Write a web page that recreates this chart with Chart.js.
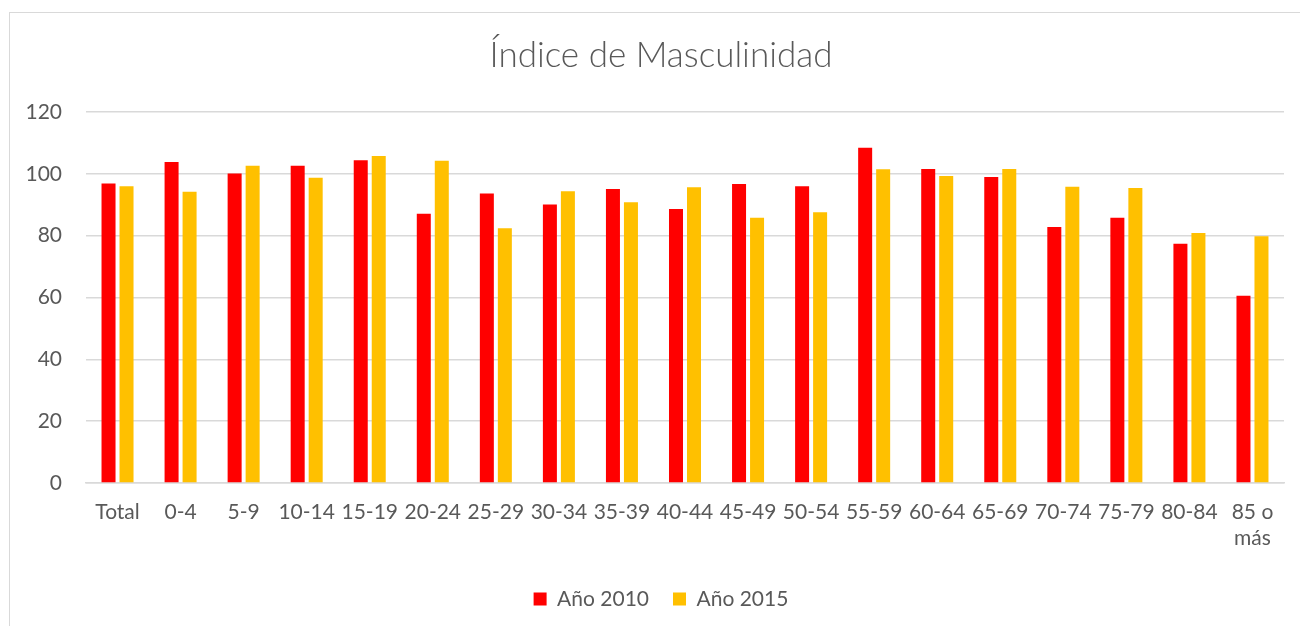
<!DOCTYPE html>
<html>
<head>
<meta charset="utf-8">
<script src="https://cdn.jsdelivr.net/npm/chart.js@4.4.1/dist/chart.umd.min.js"></script>
<style>
  html, body { margin: 0; padding: 0; background: #ffffff; }
  #wrap { position: relative; width: 1300px; height: 626px; overflow: hidden; }
  #frame { position: absolute; left: 9px; top: 12px; width: 1300px; height: 640px; border: 1px solid #d9d9d9; box-sizing: border-box; }
  #c { position: absolute; left: 0; top: 0; }
</style>
</head>
<body>
<div id="wrap">
  <div id="frame"></div>
  <canvas id="c" width="1300" height="626"></canvas>
</div>
<script>
const categories = ['Total', '0-4', '5-9', '10-14', '15-19', '20-24', '25-29', '30-34', '35-39', '40-44', '45-49', '50-54', '55-59', '60-64', '65-69', '70-74', '75-79', '80-84', ['85 o', 'más']];
const anio2010 = [96.9, 103.8, 100.1, 102.6, 104.4, 87.1, 93.6, 90.1, 95.1, 88.6, 96.7, 96.0, 108.4, 101.6, 99.0, 82.8, 85.8, 77.4, 60.6];
const anio2015 = [96.0, 94.2, 102.6, 98.7, 105.8, 104.2, 82.4, 94.4, 90.8, 95.7, 85.8, 87.6, 101.5, 99.3, 101.6, 95.8, 95.4, 80.9, 79.8];
const seriesNames = ['Año 2010', 'Año 2015'];
const yTicks = [0, 20, 40, 60, 80, 100, 120];
const titleText = 'Índice de Masculinidad';

const txt = '#595959';
const grid = '#d9d9d9';

new Chart(document.getElementById('c'), {
  type: 'bar',
  data: {
    labels: categories,
    datasets: [
      { label: seriesNames[0], data: anio2010, backgroundColor: '#FF0000', borderWidth: 0 },
      { label: seriesNames[1], data: anio2015, backgroundColor: '#FFC000', borderWidth: 0 }
    ]
  },
  options: {
    responsive: false,
    animation: false,
    devicePixelRatio: 1,
    categoryPercentage: 0.571,
    barPercentage: 0.778,
    layout: { padding: { left: 38, right: 16, top: 0, bottom: 6.5 } },
    plugins: {
      title: {
        display: true,
        text: titleText,
        color: txt,
        font: { family: 'Lato', size: 35, weight: '300', lineHeight: 1.2 },
        padding: { top: 35, bottom: 35 }
      },
      legend: {
        position: 'bottom',
        labels: {
          color: txt,
          font: { family: 'Lato', size: 21 },
          boxWidth: 13,
          boxHeight: 13,
          padding: 24
        }
      },
      tooltip: { enabled: false }
    },
    scales: {
      x: {
        grid: { display: false, drawTicks: false },
        border: { display: true, color: grid, width: 1.5 },
        ticks: { color: txt, font: { family: 'Lato', size: 21 }, padding: 17, maxRotation: 0, autoSkip: false },
        afterFit: (s) => { s.height = 81.5; }
      },
      y: {
        min: 0,
        max: 120,
        afterBuildTicks: (s) => { s.ticks = yTicks.map(v => ({ value: v })); },
        grid: { color: grid, lineWidth: 1.5, drawTicks: false },
        border: { display: false },
        ticks: { color: txt, font: { family: 'Lato', size: 21 }, padding: 24 },
        afterFit: (s) => { s.width = 48; s._computeLabelArea = () => undefined; }
      }
    }
  }
});
</script>
</body>
</html>
